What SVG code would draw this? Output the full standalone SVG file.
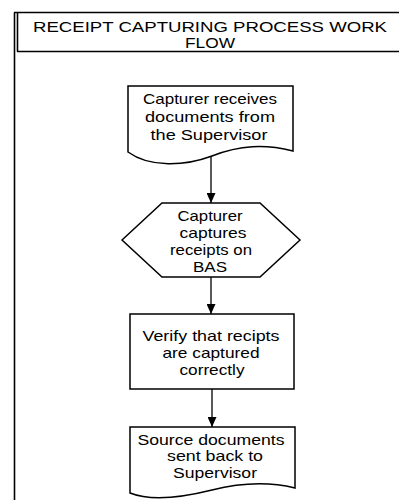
<svg xmlns="http://www.w3.org/2000/svg" width="399" height="500" viewBox="0 0 399 500">
<style>
.shape{fill:#fff;stroke:#000;stroke-width:1.5}
.frame{fill:none;stroke:#000;stroke-width:1.6}
.t{font-family:"Liberation Sans",Arial,sans-serif;font-size:14.5px;fill:#000;text-anchor:middle}
.conn{stroke:#000;stroke-width:1.3;fill:none}
</style>
<defs>
<marker id="ah" markerUnits="userSpaceOnUse" markerWidth="11" markerHeight="9" refX="10" refY="4.5" orient="auto">
<path d="M0,0 L10,4.5 L0,9 Z" fill="#000"/>
</marker>
</defs>
<rect width="399" height="500" fill="#fff"/>
<g id="frame">
<line class="frame" x1="14.5" y1="12.5" x2="14.5" y2="500"/>
<line class="frame" x1="14" y1="12.5" x2="399" y2="12.5"/>
<line class="frame" x1="17.5" y1="12.5" x2="17.5" y2="51.5"/>
<line class="frame" x1="17" y1="51.5" x2="399" y2="51.5"/>
</g>
<g id="title">
<text class="t" x="210" y="32" textLength="354" lengthAdjust="spacingAndGlyphs">RECEIPT CAPTURING PROCESS WORK</text>
<text class="t" x="210" y="47.5" textLength="50" lengthAdjust="spacingAndGlyphs">FLOW</text>
</g>
<g id="connectors">
<line class="conn" x1="211" y1="156" x2="211" y2="203" marker-end="url(#ah)"/>
<line class="conn" x1="211" y1="277" x2="211" y2="314" marker-end="url(#ah)"/>
<line class="conn" x1="212" y1="389" x2="212" y2="427" marker-end="url(#ah)"/>
</g>
<g id="node1">
<path class="shape" d="M128,86 H293 V151 C265,144 240,145 212,156 C185,166 150,168 128,152 Z"/>
<text class="t" x="210" y="104" textLength="134" lengthAdjust="spacingAndGlyphs">Capturer receives</text>
<text class="t" x="210" y="122" textLength="130" lengthAdjust="spacingAndGlyphs">documents from</text>
<text class="t" x="209" y="140" textLength="117" lengthAdjust="spacingAndGlyphs">the Supervisor</text>
</g>
<g id="node2">
<polygon class="shape" points="122,240 162,203 260,203 300,240 260,277 162,277"/>
<text class="t" x="210" y="220.5" textLength="65" lengthAdjust="spacingAndGlyphs">Capturer</text>
<text class="t" x="213" y="237.5" textLength="67" lengthAdjust="spacingAndGlyphs">captures</text>
<text class="t" x="211" y="254.5" textLength="82" lengthAdjust="spacingAndGlyphs">receipts on</text>
<text class="t" x="210" y="271.5" textLength="34" lengthAdjust="spacingAndGlyphs">BAS</text>
</g>
<g id="node3">
<rect class="shape" x="130" y="314" width="164" height="75"/>
<text class="t" x="211" y="341" textLength="137" lengthAdjust="spacingAndGlyphs">Verify that recipts</text>
<text class="t" x="211" y="358" textLength="97" lengthAdjust="spacingAndGlyphs">are captured</text>
<text class="t" x="212" y="375" textLength="65" lengthAdjust="spacingAndGlyphs">correctly</text>
</g>
<g id="node4">
<path class="shape" d="M130,427 H295 V488 C270,482 240,483 212,490 C180,498 150,501 130,493 Z"/>
<text class="t" x="211" y="445" textLength="147" lengthAdjust="spacingAndGlyphs">Source documents</text>
<text class="t" x="215" y="461" textLength="96" lengthAdjust="spacingAndGlyphs">sent back to</text>
<text class="t" x="215" y="478" textLength="84" lengthAdjust="spacingAndGlyphs">Supervisor</text>
</g>
</svg>
